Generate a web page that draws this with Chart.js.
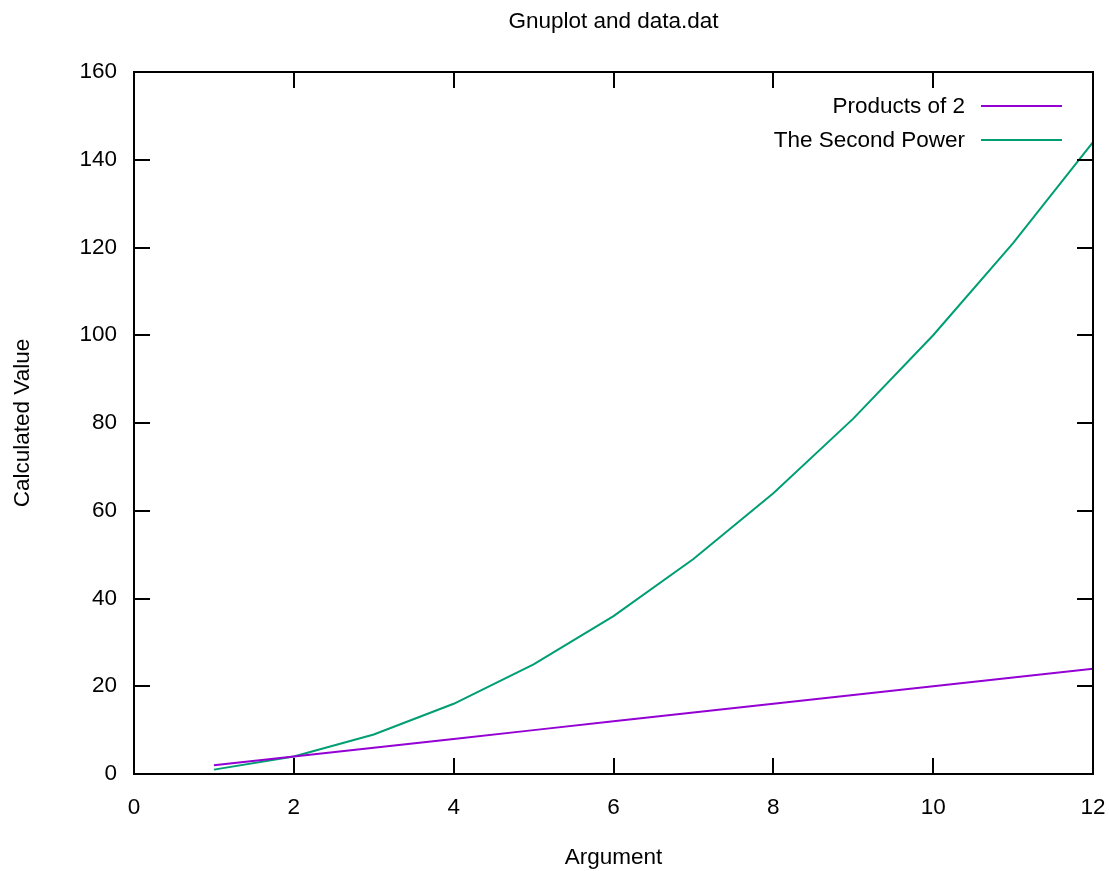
<!DOCTYPE html>
<html>
<head>
<meta charset="utf-8">
<title>Gnuplot and data.dat</title>
<script src="https://cdn.jsdelivr.net/npm/chart.js@4"></script>
<style>
  html, body { margin: 0; padding: 0; background: #fff; }
  #wrap { width: 1109px; height: 871px; }
</style>
</head>
<body>
<div id="wrap"><canvas id="myChart" width="1109" height="871"></canvas></div>
<script>
const argument = [1, 2, 3, 4, 5, 6, 7, 8, 9, 10, 11, 12];
const productsOf2 = [2, 4, 6, 8, 10, 12, 14, 16, 18, 20, 22, 24];
const secondPower = [1, 4, 9, 16, 25, 36, 49, 64, 81, 100, 121, 144];
const seriesNames = ['Products of 2', 'The Second Power'];
const colours = ['#9400d3', '#009e73'];
const xRange = [0, 12], xStep = 2;
const yRange = [0, 160], yStep = 20;

const FONT = '"Liberation Sans", Arial, sans-serif';
Chart.defaults.font.family = FONT;
Chart.defaults.font.size = 22.5;
Chart.defaults.color = '#000';

// gnuplot look: closed frame, ticks pointing inward on every side
const gnuplotFrame = {
  id: 'gnuplotFrame',
  afterDraw(chart) {
    const { ctx, chartArea: a, scales } = chart;
    const tick = 16;
    ctx.save();
    ctx.strokeStyle = '#000';
    ctx.lineWidth = 2;
    ctx.strokeRect(a.left, a.top, a.right - a.left, a.bottom - a.top);

    ctx.beginPath();
    scales.x.ticks.forEach(t => {
      const px = Math.round(scales.x.getPixelForValue(t.value));
      ctx.moveTo(px, a.bottom); ctx.lineTo(px, a.bottom - tick);
      ctx.moveTo(px, a.top); ctx.lineTo(px, a.top + tick);
    });
    scales.y.ticks.forEach(t => {
      const py = Math.round(scales.y.getPixelForValue(t.value));
      ctx.moveTo(a.left, py); ctx.lineTo(a.left + tick, py);
      ctx.moveTo(a.right, py); ctx.lineTo(a.right - tick, py);
    });
    ctx.stroke();

    // title, centred on the plot area
    ctx.fillStyle = '#000';
    ctx.font = '22.5px ' + FONT;
    ctx.textAlign = 'center';
    ctx.textBaseline = 'middle';
    ctx.fillText('Gnuplot and data.dat', (a.left + a.right) / 2, 22);

    // key in the top right corner
    ctx.textAlign = 'right';
    chart.data.datasets.forEach((ds, i) => {
      const y = 106 + i * 34;
      ctx.fillStyle = '#000';
      ctx.fillText(ds.label, a.right - 128, y + 1);
      ctx.strokeStyle = ds.borderColor;
      ctx.lineWidth = 2;
      ctx.beginPath();
      ctx.moveTo(a.right - 112, y);
      ctx.lineTo(a.right - 31, y);
      ctx.stroke();
    });
    ctx.restore();
  }
};

const ctx = document.getElementById('myChart').getContext('2d');
new Chart(ctx, {
  type: 'line',
  data: {
    datasets: [productsOf2, secondPower].map((vals, i) => ({
      label: seriesNames[i],
      data: argument.map((x, j) => ({ x, y: vals[j] })),
      borderColor: colours[i],
      backgroundColor: colours[i],
      borderWidth: 2,
      pointRadius: 0,
      tension: 0,
      fill: false
    }))
  },
  options: {
    responsive: false,
    animation: false,
    devicePixelRatio: 1,
    layout: { padding: { top: 72, right: 16, left: 0, bottom: 0 } },
    plugins: {
      legend: { display: false },
      title: { display: false },
      tooltip: { enabled: false }
    },
    scales: {
      x: {
        type: 'linear',
        min: xRange[0], max: xRange[1],
        grid: { display: false, drawTicks: false },
        border: { display: false },
        ticks: { stepSize: xStep, padding: 20, maxRotation: 0 },
        title: { display: true, text: 'Argument', padding: { top: 0, bottom: 0 } },
        afterFit(scale) {
          scale.height = 97;
          scale.paddingLeft = 0;
          scale.paddingRight = 0;
        }
      },
      y: {
        min: yRange[0], max: yRange[1],
        grid: { display: false, drawTicks: false },
        border: { display: false },
        ticks: { stepSize: yStep, padding: 17 },
        title: { display: true, text: 'Calculated Value', padding: { top: 9, bottom: 0 } },
        afterFit(scale) {
          scale.width = 134;
          scale.paddingTop = 0;
          scale.paddingBottom = 0;
        }
      }
    }
  },
  plugins: [gnuplotFrame]
});
</script>
</body>
</html>
